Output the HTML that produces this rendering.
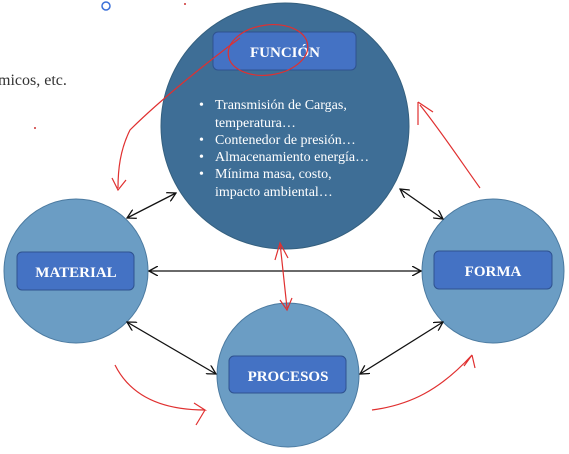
<!DOCTYPE html>
<html><head><meta charset="utf-8"><style>
body{margin:0;width:569px;height:449px;background:#fff;overflow:hidden}
</style></head><body>
<svg width="569" height="449" viewBox="0 0 569 449" xmlns="http://www.w3.org/2000/svg" font-family="Liberation Serif, serif">
<defs>
<marker id="a" markerWidth="10" markerHeight="10" refX="9" refY="5" orient="auto-start-reverse" markerUnits="userSpaceOnUse"><path d="M0,0 L9,5 L0,10" fill="none" stroke="#111" stroke-width="1.3"/></marker>
</defs>
<text x="-2" y="85" font-size="16" fill="#333">micos, etc.</text>
<circle cx="106" cy="6" r="4" fill="none" stroke="#3a6fd8" stroke-width="1.5"/>
<circle cx="185" cy="4" r="1" fill="#c33"/><circle cx="35" cy="128" r="1" fill="#c33"/>
<ellipse cx="285" cy="126" rx="124" ry="123" fill="#3e6e96" stroke="#35607f"/>
<ellipse cx="76" cy="271" rx="72" ry="72" fill="#6b9dc4" stroke="#4b7aa0"/>
<ellipse cx="493" cy="271" rx="71" ry="72" fill="#6b9dc4" stroke="#4b7aa0"/>
<ellipse cx="288" cy="375" rx="71" ry="72" fill="#6b9dc4" stroke="#4b7aa0"/>
<rect x="213" y="32" width="143" height="38" rx="5" fill="#4472c4" stroke="#2f528f"/>
<rect x="17" y="252" width="117" height="38" rx="5" fill="#4472c4" stroke="#2f528f"/>
<rect x="434" y="251" width="118" height="38" rx="5" fill="#4472c4" stroke="#2f528f"/>
<rect x="229" y="356" width="117" height="37" rx="5" fill="#4472c4" stroke="#2f528f"/>
<g fill="#fff" font-weight="bold" font-size="15" text-anchor="middle">
<text x="285" y="57">FUNCIÓN</text>
<text x="76" y="277">MATERIAL</text>
<text x="493" y="276">FORMA</text>
<text x="288" y="381">PROCESOS</text>
</g>
<g fill="#fff" font-size="14">
<text x="199" y="109">•</text><text x="215" y="109">Transmisión de Cargas,</text>
<text x="215" y="127">temperatura…</text>
<text x="199" y="144">•</text><text x="215" y="144">Contenedor de presión…</text>
<text x="199" y="161">•</text><text x="215" y="161">Almacenamiento energía…</text>
<text x="199" y="178">•</text><text x="215" y="178">Mínima masa, costo,</text>
<text x="215" y="196">impacto ambiental…</text>
</g>
<g stroke="#111" stroke-width="1.3" marker-start="url(#a)" marker-end="url(#a)">
<line x1="149" y1="271" x2="421" y2="271"/>
<line x1="127" y1="218" x2="176" y2="193"/>
<line x1="400" y1="189" x2="443" y2="219"/>
<line x1="127" y1="322" x2="216" y2="374"/>
<line x1="360" y1="374" x2="443" y2="322"/>
</g>
<g fill="none" stroke="#e03030" stroke-width="1.2">
<ellipse cx="268" cy="50" rx="40" ry="25" transform="rotate(-8 268 50)"/>
<path d="M240 38 C210 60 160 100 130 130 C120 150 118 170 118 188"/>
<path d="M112 178 L118 190 L126 180"/>
<path d="M480 188 C460 160 440 130 420 105 M418 102 L418 125 M418 102 L433 112"/>
<path d="M280 243 L287 308 M275 260 L280 243 L288 258 M280 300 L287 310 L292 298"/>
<path d="M115 365 C130 395 160 410 205 410 L194 403 M205 410 L196 425"/>
<path d="M372 410 C410 405 440 390 472 355 L464 366 M472 355 L475 368"/>
</g>
</svg>
</body></html>
